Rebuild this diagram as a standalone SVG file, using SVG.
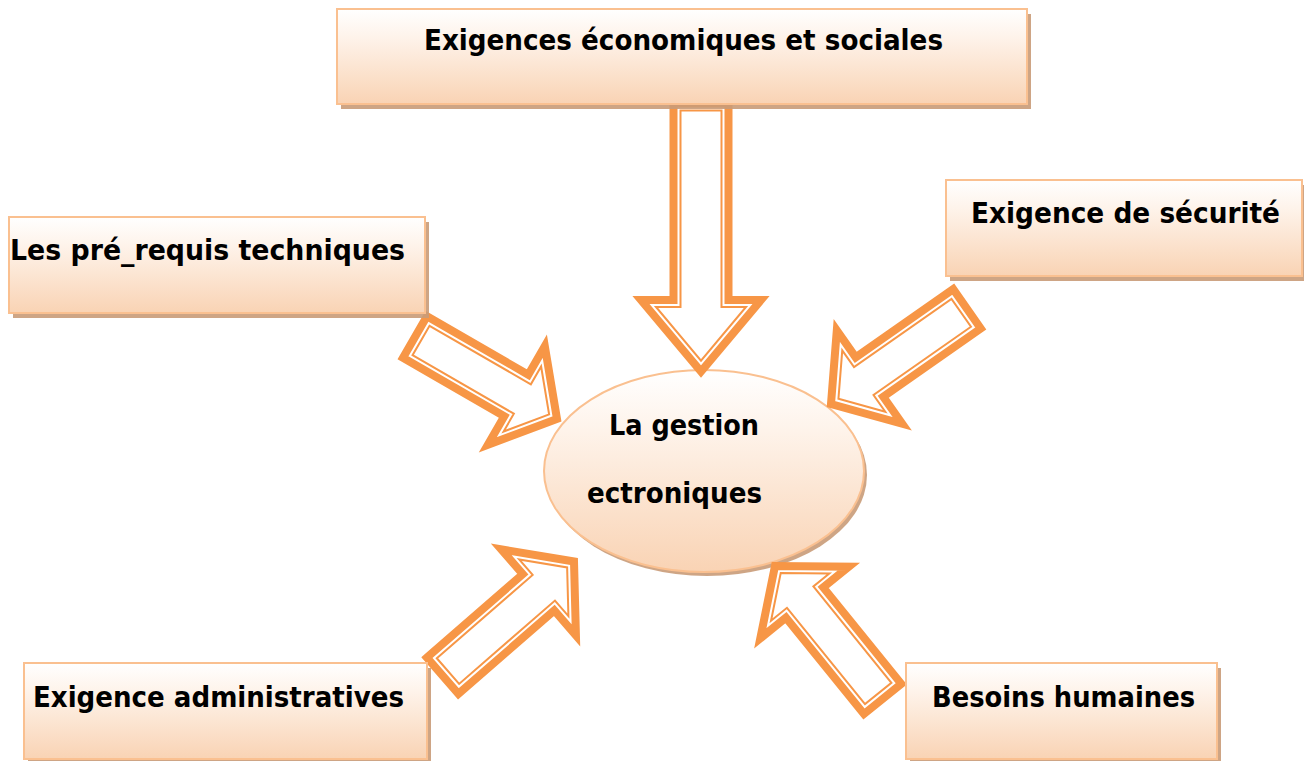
<svg xmlns="http://www.w3.org/2000/svg" width="1304" height="761" viewBox="0 0 1304 761">
<defs>
<linearGradient id="g" x1="0" y1="0" x2="0" y2="1">
<stop offset="0" stop-color="#FFFFFF"/>
<stop offset="0.3" stop-color="#FEF3EA"/>
<stop offset="1" stop-color="#F9D3B4"/>
</linearGradient>
<style>
.box{fill:url(#g);stroke:#FAC090;stroke-width:2}
.sh{fill:#C99B78;opacity:0.9}
.ao{fill:#FFFFFF;stroke:#F79646;stroke-width:8;stroke-linejoin:miter;stroke-miterlimit:10}
.ai{fill:none;stroke:#F79646;stroke-width:2;stroke-linejoin:miter;stroke-miterlimit:10}
.t{font-family:"DejaVu Sans",Verdana,sans-serif;font-weight:bold;font-size:28px;fill:#000000}
</style>
</defs>
<rect width="1304" height="761" fill="#FFFFFF"/>

<g id="center">
<ellipse cx="707" cy="475" rx="160" ry="101" class="sh"/>
<ellipse cx="704" cy="471" rx="160" ry="101" class="box"/>
<text class="t" x="609" y="435" textLength="150" lengthAdjust="spacingAndGlyphs">La gestion</text>
<text class="t" x="587" y="503" textLength="175" lengthAdjust="spacingAndGlyphs">ectroniques</text>
</g>

<g id="connectors">
<g transform="translate(701,371.5) rotate(90)">
<polygon class="ao" points="-268,-27.5 -71.5,-27.5 -71.5,-60 0,0 -71.5,60 -71.5,27.5 -268,27.5"/>
<polygon class="ai" points="-261,-20.5 -64.5,-20.5 -64.5,-45 -10.9,0 -64.5,45 -64.5,20.5 -261,20.5"/>
</g>
<g transform="translate(557,419) rotate(30)">
<polygon class="ao" points="-164,-24 -47,-24 -47,-57 0,0 -47,57 -47,24 -164,24"/>
<polygon class="ai" points="-157,-17 -40,-17 -40,-37.5 -9.1,0 -40,37.5 -40,17 -157,17"/>
</g>
<g transform="translate(831,404) rotate(145)">
<polygon class="ao" points="-166,-24 -47,-24 -47,-57 0,0 -47,57 -47,24 -166,24"/>
<polygon class="ai" points="-159,-17 -40,-17 -40,-37.5 -9.1,0 -40,37.5 -40,17 -159,17"/>
</g>
<g transform="translate(574,561.5) rotate(-41)">
<polygon class="ao" points="-174,-24 -47,-24 -47,-57 0,0 -47,57 -47,24 -174,24"/>
<polygon class="ai" points="-167,-17 -40,-17 -40,-37.5 -9.1,0 -40,37.5 -40,17 -167,17"/>
</g>
<g transform="translate(775,566) rotate(-129)">
<polygon class="ao" points="-171,-24 -47,-24 -47,-57 0,0 -47,57 -47,24 -171,24"/>
<polygon class="ai" points="-164,-17 -40,-17 -40,-37.5 -9.1,0 -40,37.5 -40,17 -164,17"/>
</g>
</g>

<g id="eco">
<rect x="341" y="14" width="690" height="95" class="sh"/>
<rect x="337" y="9" width="690" height="95" class="box"/>
<text class="t" x="424" y="50" textLength="519" lengthAdjust="spacingAndGlyphs">Exigences économiques et sociales</text>
</g>

<g id="tech">
<rect x="13" y="222" width="416" height="96" class="sh"/>
<rect x="9" y="217" width="416" height="96" class="box"/>
<text class="t" x="10" y="260" textLength="395" lengthAdjust="spacingAndGlyphs">Les pré_requis techniques</text>
</g>

<g id="secu">
<rect x="950" y="185" width="356" height="96" class="sh"/>
<rect x="946" y="180" width="356" height="96" class="box"/>
<text class="t" x="971" y="223" textLength="309" lengthAdjust="spacingAndGlyphs">Exigence de sécurité</text>
</g>

<g id="admin">
<rect x="28" y="668" width="403" height="96" class="sh"/>
<rect x="24" y="663" width="403" height="96" class="box"/>
<text class="t" x="33" y="707" textLength="371" lengthAdjust="spacingAndGlyphs">Exigence administratives</text>
</g>

<g id="humain">
<rect x="910" y="668" width="311" height="96" class="sh"/>
<rect x="906" y="663" width="311" height="96" class="box"/>
<text class="t" x="932" y="707" textLength="263" lengthAdjust="spacingAndGlyphs">Besoins humaines</text>
</g>
</svg>
